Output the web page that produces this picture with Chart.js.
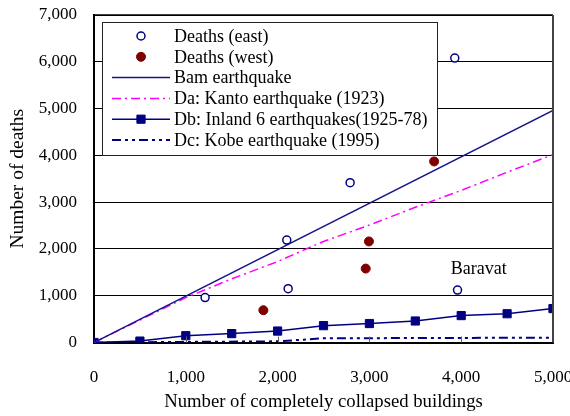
<!DOCTYPE html>
<html>
<head>
<meta charset="utf-8">
<script src="https://cdn.jsdelivr.net/npm/chart.js@4.4.1/dist/chart.umd.min.js"></script>
<style>
html, body { margin: 0; padding: 0; background: #fff; }
#wrap { width: 570px; height: 416px; }
</style>
</head>
<body>
<div id="wrap"><canvas id="deathsChart"></canvas></div>
<script>
// collapsed buildings (x) against deaths (y)
const eastBuildings = [1210, 2100, 2115, 2790, 3960, 3930];
const eastDeaths = [960, 2190, 1150, 3415, 1120, 6080];

const westBuildings = [1845, 2995, 2960, 3705];
const westDeaths = [690, 2160, 1580, 3870];

const bamBuildings = [0, 5000];
const bamDeaths = [0, 4960];

const kantoBuildings = [0, 500, 1000, 1500, 2000, 2500, 3000, 3500, 4000, 4500, 5000];
const kantoDeaths = [0, 480, 960, 1360, 1730, 2160, 2510, 2890, 3250, 3640, 4015];

const inlandBuildings = [0, 500, 1000, 1500, 2000, 2500, 3000, 3500, 4000, 4500, 5000];
const inlandDeaths = [0, 30, 145, 190, 245, 360, 405, 460, 575, 615, 725];

const kobeBuildings = [0, 2000, 2500, 5000];
const kobeDeaths = [0, 25, 90, 103];

const xTicks = [0, 1000, 2000, 3000, 4000, 5000];
const yTicks = [0, 1000, 2000, 3000, 4000, 5000, 6000, 7000];

const noteLabel = { text: 'Baravat', x: 4190, y: 1575 };

const FONT = 'Liberation Serif, Times New Roman, serif';
const NAVY = '#000080';

function toPoints(xs, ys) {
    return xs.map((x, i) => ({ x: x, y: ys[i] }));
}

function fmt(v) {
    return v.toLocaleString('en-US');
}

// boxed legend sitting inside the plot, upper left
const boxLegend = {
    id: 'boxLegend',
    afterDatasetsDraw(chart) {
        const { ctx, chartArea } = chart;
        const left = chartArea.left + 8;
        const top = chartArea.top + 7;
        const w = 335, h = 133;
        ctx.save();
        ctx.fillStyle = '#fff';
        ctx.fillRect(left, top, w, h);
        ctx.strokeStyle = '#222';
        ctx.lineWidth = 1;
        ctx.strokeRect(left + 0.5, top + 0.5, w, h);

        chart.data.datasets.forEach((ds, i) => {
            const y = top + 14 + i * 20.8;
            const x0 = left + 10, x1 = left + 68, xm = (x0 + x1) / 2;
            if (ds.showLine) {
                ctx.setLineDash(ds.borderDash || []);
                ctx.strokeStyle = ds.borderColor;
                ctx.lineWidth = ds.borderWidth;
                ctx.beginPath();
                ctx.moveTo(x0, y);
                ctx.lineTo(x1, y);
                ctx.stroke();
                ctx.setLineDash([]);
            }
            if (ds.pointRadius > 0) {
                ctx.fillStyle = ds.pointBackgroundColor;
                ctx.strokeStyle = ds.pointBorderColor;
                ctx.lineWidth = ds.pointBorderWidth;
                Chart.helpers.drawPoint(ctx, {
                    pointStyle: ds.pointStyle,
                    radius: ds.pointRadius,
                    borderWidth: ds.pointBorderWidth,
                    rotation: 0
                }, xm, y);
            }
            ctx.fillStyle = '#000';
            ctx.font = '18px ' + FONT;
            ctx.textAlign = 'left';
            ctx.textBaseline = 'middle';
            ctx.fillText(ds.label, left + 72, y + 1);
        });
        ctx.restore();
    },
    afterDraw(chart) {
        const { ctx, chartArea, scales } = chart;
        ctx.save();
        // top and right edges of the frame
        ctx.strokeStyle = '#000';
        ctx.lineWidth = 1.5;
        ctx.beginPath();
        ctx.moveTo(chartArea.left, chartArea.top);
        ctx.lineTo(chartArea.right, chartArea.top);
        ctx.stroke();
        ctx.strokeStyle = '#444';
        ctx.lineWidth = 2;
        ctx.beginPath();
        ctx.moveTo(chartArea.right, chartArea.top);
        ctx.lineTo(chartArea.right, chartArea.bottom);
        ctx.stroke();

        // inward tick marks on the x axis
        ctx.strokeStyle = '#666';
        ctx.lineWidth = 1;
        xTicks.slice(1, -1).forEach(v => {
            const px = Math.round(scales.x.getPixelForValue(v)) + 0.5;
            ctx.beginPath();
            ctx.moveTo(px, chartArea.bottom);
            ctx.lineTo(px, chartArea.bottom - 6);
            ctx.stroke();
        });

        // text note next to the Baravat point
        ctx.fillStyle = '#000';
        ctx.font = '18px ' + FONT;
        ctx.textAlign = 'center';
        ctx.textBaseline = 'middle';
        ctx.fillText(noteLabel.text, scales.x.getPixelForValue(noteLabel.x), scales.y.getPixelForValue(noteLabel.y));
        ctx.restore();
    }
};

const ctx = document.getElementById('deathsChart').getContext('2d');
new Chart(ctx, {
    type: 'scatter',
    data: {
        datasets: [{
            label: 'Deaths (east)',
            data: toPoints(eastBuildings, eastDeaths),
            showLine: false,
            pointStyle: 'circle',
            pointRadius: 4,
            pointBorderWidth: 1.5,
            pointBorderColor: NAVY,
            pointBackgroundColor: '#fff',
            borderColor: NAVY,
            backgroundColor: '#fff'
        }, {
            label: 'Deaths (west)',
            data: toPoints(westBuildings, westDeaths),
            showLine: false,
            pointStyle: 'circle',
            pointRadius: 4.5,
            pointBorderWidth: 1,
            pointBorderColor: '#800000',
            pointBackgroundColor: '#800000',
            borderColor: '#800000',
            backgroundColor: '#800000'
        }, {
            label: 'Bam earthquake',
            data: toPoints(bamBuildings, bamDeaths),
            showLine: true,
            borderColor: '#14148c',
            borderWidth: 1.5,
            pointRadius: 0
        }, {
            label: 'Da: Kanto earthquake (1923)',
            data: toPoints(kantoBuildings, kantoDeaths),
            showLine: true,
            borderColor: '#ff00ff',
            borderWidth: 1.5,
            borderDash: [9, 4, 2, 4],
            pointRadius: 0
        }, {
            label: 'Db: Inland 6 earthquakes(1925-78)',
            data: toPoints(inlandBuildings, inlandDeaths),
            showLine: true,
            borderColor: NAVY,
            borderWidth: 1.5,
            pointStyle: 'rect',
            pointRadius: 5.8,
            pointBorderWidth: 1,
            pointBorderColor: NAVY,
            pointBackgroundColor: NAVY
        }, {
            label: 'Dc: Kobe earthquake (1995)',
            data: toPoints(kobeBuildings, kobeDeaths),
            showLine: true,
            borderColor: NAVY,
            borderWidth: 2,
            borderDash: [9, 4, 3, 4, 3, 4],
            pointRadius: 0
        }]
    },
    options: {
        responsive: true,
        maintainAspectRatio: false,
        animation: false,
        layout: {
            padding: { top: 15, right: 17, left: 0, bottom: 0 }
        },
        plugins: {
            legend: { display: false },
            tooltip: { enabled: false }
        },
        scales: {
            x: {
                type: 'linear',
                min: 0,
                max: 5000,
                afterBuildTicks: scale => { scale.ticks = xTicks.map(v => ({ value: v })); },
                afterFit: scale => {
                    scale.height = 73.5;
                    scale.paddingLeft = 0;
                    scale.paddingRight = 0;
                },
                grid: { display: false },
                border: { display: true, color: '#000', width: 2 },
                ticks: {
                    color: '#000',
                    padding: 17,
                    maxRotation: 0,
                    font: { family: FONT, size: 17 },
                    callback: v => fmt(v)
                },
                title: {
                    display: true,
                    text: 'Number of completely collapsed buildings',
                    color: '#000',
                    padding: { top: 0, bottom: 3 },
                    font: { family: FONT, size: 18.7 }
                }
            },
            y: {
                type: 'linear',
                min: 0,
                max: 7000,
                afterBuildTicks: scale => { scale.ticks = yTicks.map(v => ({ value: v })); },
                afterFit: scale => {
                    scale.width = 94;
                    scale.paddingTop = 0;
                    scale.paddingBottom = 0;
                },
                grid: { color: '#000', lineWidth: 1, drawTicks: false },
                border: { display: true, color: '#000', width: 2 },
                ticks: {
                    color: '#000',
                    padding: 17,
                    font: { family: FONT, size: 17 },
                    callback: v => fmt(v)
                },
                title: {
                    display: true,
                    text: 'Number of deaths',
                    color: '#000',
                    padding: { top: 6, bottom: 0 },
                    font: { family: FONT, size: 19.5 }
                }
            }
        }
    },
    plugins: [boxLegend]
});
</script>
</body>
</html>
